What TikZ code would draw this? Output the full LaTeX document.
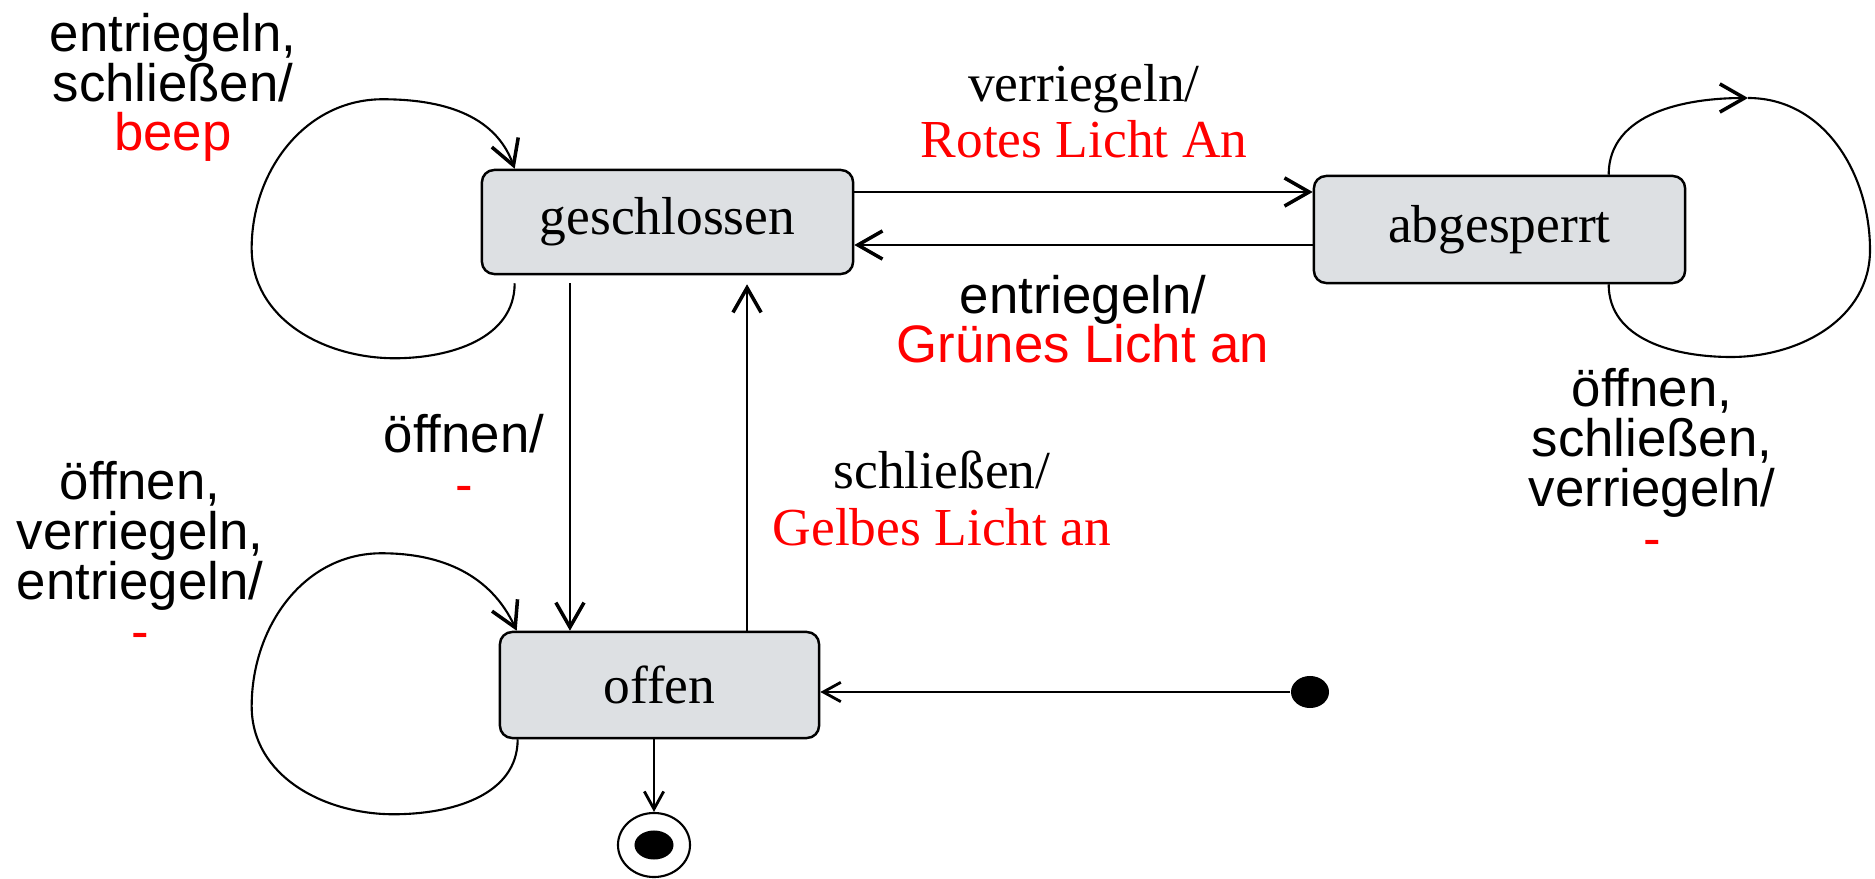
\documentclass[tikz,border=0pt]{standalone}
\usepackage{fontspec}
\setmainfont{Liberation Serif}
\newfontfamily\arialfont{Liberation Sans}
\usetikzlibrary{arrows.meta,shapes.geometric,calc}
\definecolor{stategray}{HTML}{DDE0E3}
\definecolor{actred}{HTML}{FF0000}

\begin{document}
\begin{tikzpicture}[x=0.01cm, y=0.01cm,
  state/.style={rectangle, rounded corners=3.5pt, draw=black, line width=0.7pt, fill=stategray, font=\fontsize{15.2}{16}\selectfont},
  serif label/.style={align=center, anchor=base, inner sep=0pt, font=\fontsize{15.2}{16.2}\selectfont},
  sans label/.style={align=center, anchor=base, inner sep=0pt, font=\arialfont\fontsize{15}{14.2}\selectfont},
  edge/.style={line width=0.6pt, -{Straight Barb[length=7pt, width=8pt, line width=1pt]}},
  thin edge/.style={line width=0.6pt, -{Straight Barb[length=5pt, width=5.5pt, line width=0.8pt]}}]

\useasboundingbox (0,0) rectangle (1875,-879);

% States
\node[state, minimum width=3.71cm, minimum height=1.04cm] (gsch) at (667.5,-222) {geschlossen};
\node[state, minimum width=3.71cm, minimum height=1.07cm] (abg) at (1499.5,-229.5) {abgesperrt};
\node[state, minimum width=3.19cm, minimum height=1.06cm] (offen) at (659.5,-685) {offen};

% Initial and final state
\node[ellipse, fill=black, minimum width=0.38cm, minimum height=0.32cm, inner sep=0pt] (init) at (1310,-692) {};
\node[ellipse, draw=black, line width=0.6pt, minimum width=0.72cm, minimum height=0.64cm, inner sep=0pt] (fin) at (654,-845) {};
\node[ellipse, fill=black, minimum width=0.39cm, minimum height=0.29cm, inner sep=0pt] (fincore) at (fin.center) {};

% Transitions between states
\draw[edge] ([yshift=0.30cm]gsch.east) coordinate (vstart) -- (vstart -| abg.west);
\draw[edge] ([yshift=-0.155cm]abg.west) coordinate (estart) -- (estart -| gsch.east);
\draw[edge] ([xshift=-0.975cm, yshift=-0.08cm]gsch.south) coordinate (ostart) -- (ostart |- offen.north);
\draw[edge, shorten >=0.09cm] ([xshift=0.875cm]offen.north) coordinate (sstart) -- (sstart |- gsch.south);

% Initial and final transitions
\draw[thin edge, line width=0.8pt] (init.west) -- (init -| offen.east);
\draw[thin edge] (fin |- offen.south) -- (fin.north);

% Self loops
\draw[edge] ($(gsch.south west)+(34,-8)$) to[out=-90,in=0] ++(-120,-75) to[out=180,in=-90] ++(-143,110)
  to[out=90,in=180] ++(131,149) to[out=0,in=110] ($(gsch.north west)+(34,0)$);
\draw[edge] ($(offen.south west)+(19,0)$) to[out=-90,in=0] ++(-124,-75) to[out=180,in=-90] ++(-142,108)
  to[out=90,in=180] ++(130,153) to[out=0,in=115] ($(offen.north west)+(18,0)$);
\coordinate (abgtip) at (1748,-98);
\draw[edge] ($(abg.north west)+(296,0)$) to[out=90,in=180] (abgtip);
\draw[line width=0.6pt] (abgtip) to[out=0,in=90] ++(122,-152) to[out=-90,in=0] ++(-139,-107)
  to[out=180,in=-90] ($(abg.south west)+(296,0)$);

% Labels (placed at the baseline of their last line)
\node[sans label] (lgsch) at (173,-151) {entriegeln,\\schließen/\\\textcolor{actred}{beep}};
\node[serif label] (lverr) at (1084,-158) {verriegeln/\\\textcolor{actred}{Rotes Licht An}};
\node[sans label] (lentr) at (1083,-363) {entriegeln/\\\textcolor{actred}{Grünes Licht an}};
\node[sans label] (loeff) at (464,-502) {öffnen/\\\textcolor{actred}{-}};
\node[serif label] (lschl) at (942,-545) {schließen/\\\textcolor{actred}{Gelbes Licht an}};
\node[sans label] (loffen) at (140,-649) {öffnen,\\verriegeln,\\entriegeln/\\\textcolor{actred}{-}};
\node[sans label] (labg) at (1652,-556) {öffnen,\\schließen,\\verriegeln/\\\textcolor{actred}{-}};

\end{tikzpicture}
\end{document}
